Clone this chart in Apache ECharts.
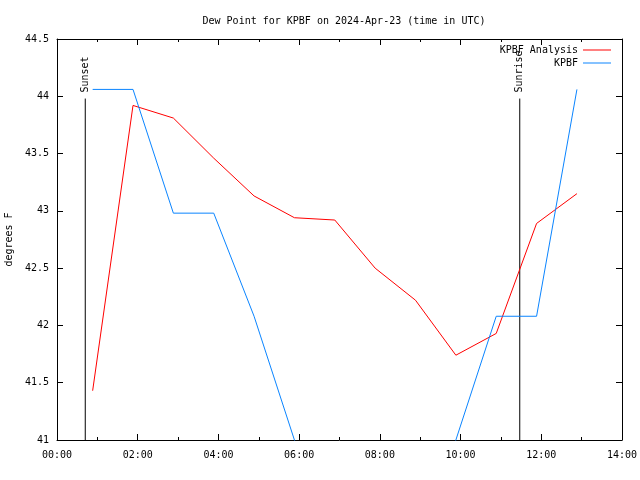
<!DOCTYPE html>
<html>
<head>
<meta charset="utf-8">
<script src="https://cdn.jsdelivr.net/npm/echarts@6/dist/echarts.min.js"></script>
<style>html,body{margin:0;padding:0;background:#fff}#c{width:640px;height:480px}</style>
</head>
<body>
<div id="c"></div>
<script>
// Data
var times = ['00:53','01:53','02:53','03:53','04:53','05:53','06:53','07:53','08:53','09:53','10:53','11:53','12:53'];
var analysisValues = [41.43, 43.92, 43.81, 43.46, 43.13, 42.94, 42.92, 42.50, 42.22, 41.74, 41.93, 42.89, 43.15];
var obsValues = [44.06, 44.06, 42.98, 42.98, 42.08, 41.0, 39.92, 39.92, 39.92, 41.0, 42.08, 42.08, 44.06];
var sunsetTime = '00:42';
var sunriseTime = '11:28';
var markerTop = 43.98;
var yMin = 41, yMax = 44.5, yStep = 0.5;
var xMin = 0, xMax = 14, xStep = 2;
var titleText = 'Dew Point for KPBF on 2024-Apr-23 (time in UTC)';
var yName = 'degrees F';
var analysisName = 'KPBF Analysis';
var obsName = 'KPBF';

function toHours(t){var p=t.split(':');return +p[0] + (+p[1])/60;}
function pair(vals){return times.map(function(t,i){return [toHours(t), vals[i]];});}
function pad(n){return (n<10?'0':'')+n;}

var FONT = 'DejaVu Sans Mono';
var chart = echarts.init(document.getElementById('c'), null, {renderer:'canvas'});

function markerSeries(t, label){
  var h = toHours(t);
  return {
    type:'line', data:[[h, yMin],[h, markerTop]], silent:true,
    symbol:'none', lineStyle:{color:'#000', width:1}, z:3,
    label:{show:false},
    markPoint:{
      symbol:'circle', symbolSize:0,
      data:[{coord:[h, markerTop]}],
      label:{show:true, formatter:label, rotate:90, position:'top', distance:6,
        align:'left', verticalAlign:'middle', color:'#000', fontFamily:FONT, fontSize:10}
    }
  };
}

var axisCommon = {
  axisLine:{show:true, onZero:false, lineStyle:{color:'#000', width:1}},
  splitLine:{show:false}
};

chart.setOption({
  animation:false,
  backgroundColor:'#fff',
  textStyle:{fontFamily:FONT},
  title:{text:titleText, left:339, textAlign:'center', top:11,
    textStyle:{fontFamily:FONT, fontSize:10, fontWeight:'normal', color:'#000'}},
  grid:{left:57, right:18, top:39, bottom:40, containLabel:false, outerBoundsMode:'none'},
  legend:{
    orient:'vertical', right:24, top:40, align:'right',
    icon:'rect', itemWidth:28, itemHeight:1, itemGap:3,
    textStyle:{fontFamily:FONT, fontSize:10, color:'#000'},
    data:[analysisName, obsName]
  },
  xAxis:[
    Object.assign({type:'value', min:xMin, max:xMax, interval:xStep, position:'bottom',
      axisTick:{inside:true, length:6, lineStyle:{color:'#000'}},
      minorTick:{show:true, splitNumber:2, length:3, lineStyle:{color:'#000'}},
      axisLabel:{color:'#000', fontFamily:FONT, fontSize:10, margin:10,
        formatter:function(v){return pad(v)+':00';}}}, axisCommon),
    Object.assign({type:'value', min:xMin, max:xMax, interval:xStep, position:'top',
      axisTick:{inside:true, length:6, lineStyle:{color:'#000'}},
      minorTick:{show:true, splitNumber:2, length:3, lineStyle:{color:'#000'}},
      axisLabel:{show:false}}, axisCommon)
  ],
  yAxis:[
    Object.assign({type:'value', min:yMin, max:yMax, interval:yStep, position:'left',
      name:yName, nameLocation:'middle', nameGap:42, nameRotate:90,
      nameTextStyle:{color:'#000', fontFamily:FONT, fontSize:10},
      axisTick:{inside:true, length:6, lineStyle:{color:'#000'}},
      axisLabel:{color:'#000', fontFamily:FONT, fontSize:10, margin:8}}, axisCommon),
    Object.assign({type:'value', min:yMin, max:yMax, interval:yStep, position:'right',
      axisTick:{inside:true, length:6, lineStyle:{color:'#000'}},
      axisLabel:{show:false}}, axisCommon)
  ],
  series:[
    {name:analysisName, type:'line', data:pair(analysisValues), symbol:'none',
      color:'#ff0000', lineStyle:{color:'#ff0000', width:1}, clip:true, z:4},
    {name:obsName, type:'line', data:pair(obsValues), symbol:'none',
      color:'#0a84ff', lineStyle:{color:'#0a84ff', width:1}, clip:true, z:4},
    markerSeries(sunsetTime, 'Sunset'),
    markerSeries(sunriseTime, 'Sunrise')
  ]
});
</script>
</body>
</html>
